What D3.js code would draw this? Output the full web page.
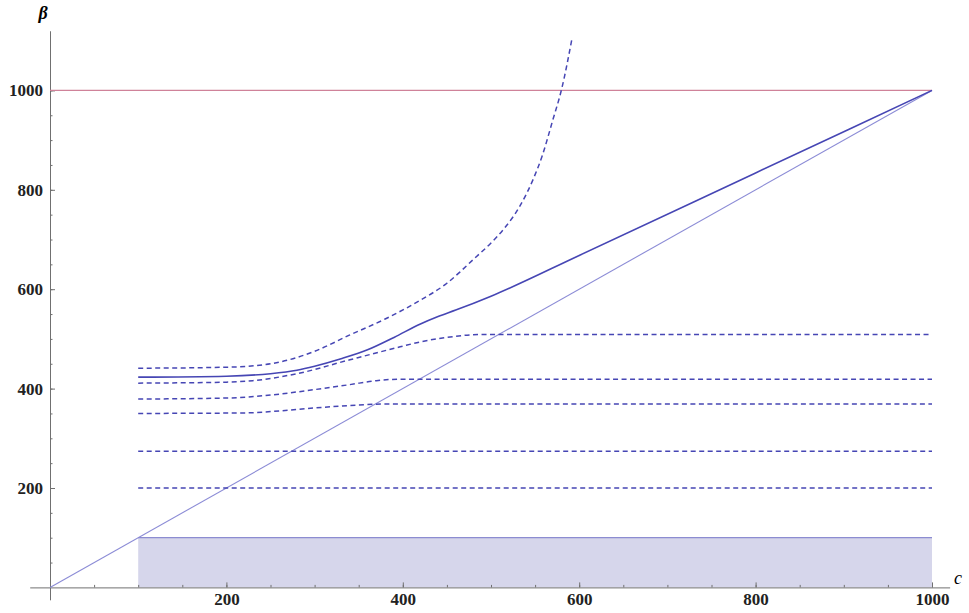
<!DOCTYPE html>
<html>
<head>
<meta charset="utf-8">
<script src="https://cdn.jsdelivr.net/npm/d3@7"></script>
<style>
  body { margin: 0; background: #fff; }
</style>
</head>
<body>
<svg width="969" height="613"></svg>
<script>
// values
var majorTicks = [200, 400, 600, 800, 1000];
var minorTicks = d3.range(50, 1001, 50);

var solidC = [100, 200, 250, 280, 300, 330, 360, 390, 420, 440, 460, 500, 600, 800, 1000];
var solidB = [423, 425, 430, 437, 445, 460, 478, 503, 530, 545, 558, 586, 668, 834, 1000];

var dash1C = [100, 200, 250, 300, 340, 380, 420, 450, 465, 480, 500, 514, 533, 548, 558, 570, 580, 592];
var dash1B = [441, 443, 450, 475, 508, 540, 578, 612, 635, 660, 693, 720, 768, 822, 868, 940, 1002, 1106];

var dash2C = [100, 200, 230, 280, 340, 397, 420, 450, 490, 1000];
var dash2B = [411, 413, 416, 430, 458, 484, 494, 503, 509, 509];

var dash3C = [100, 200, 250, 300, 340, 370, 400, 1000];
var dash3B = [379, 381, 387, 398, 408, 416, 419, 419];

var dash4C = [100, 220, 260, 300, 340, 380, 1000];
var dash4B = [350, 351, 355, 361, 366, 369, 369];

var dash5C = [100, 1000];
var dash5B = [274, 274];

var dash6C = [100, 1000];
var dash6B = [200, 200];

var diagC = [0, 1000];
var diagB = [0, 1000];

var capB = 1000;           // horizontal red line
var boxC = [100, 1000];    // shaded region
var boxB = 100;

var svg = d3.select("svg");
var serif = "'Liberation Serif', 'Times New Roman', serif";

var x = d3.scaleLinear().domain([0, 1000]).range([50, 932]);
var y = d3.scaleLinear().domain([0, 1000]).range([587.4, 90.4]);

function pts(cs, bs) {
  return cs.map(function (c, i) { return [c, bs[i]]; });
}

var line = d3.line()
  .x(function (d) { return x(d[0]); })
  .y(function (d) { return y(d[1]); })
  .curve(d3.curveMonotoneX);

var ink = "#4646b4";

// shaded box
svg.append("rect")
  .attr("x", x(boxC[0]))
  .attr("y", y(boxB))
  .attr("width", x(boxC[1]) - x(boxC[0]))
  .attr("height", y(0) - y(boxB))
  .attr("fill", "#d6d6eb");
svg.append("line")
  .attr("x1", x(boxC[0])).attr("x2", x(boxC[1]))
  .attr("y1", y(boxB)).attr("y2", y(boxB))
  .attr("stroke", "#7474c8").attr("stroke-width", 1);

// axes (drawn a bit longer than the data range)
var xa = d3.scaleLinear().domain([-23, 1020]).range([x(-23), x(1020)]);
var ya = d3.scaleLinear().domain([-25, 1120]).range([y(-25), y(1120)]);

function styleAxis(g) {
  g.attr("font-family", serif);
  g.selectAll("path,line").attr("stroke", "#707070");
  g.selectAll("text")
    .style("font-family", serif)
    .style("font-size", "17px")
    .style("font-weight", "bold")
    .attr("fill", "#222");
}

svg.append("g")
  .attr("transform", "translate(0," + y(0) + ")")
  .call(d3.axisBottom(xa).tickValues(minorTicks).tickSize(-2.5).tickSizeOuter(0).tickFormat(""))
  .call(styleAxis);
svg.append("g")
  .attr("transform", "translate(0," + y(0) + ")")
  .call(d3.axisBottom(xa).tickValues(majorTicks).tickSize(-5).tickSizeOuter(0).tickPadding(6).tickFormat(d3.format("d")))
  .call(styleAxis)
  .select(".domain").remove();

svg.append("g")
  .attr("transform", "translate(" + x(0) + ",0)")
  .call(d3.axisLeft(ya).tickValues(minorTicks).tickSize(-2.5).tickSizeOuter(0).tickFormat(""))
  .call(styleAxis);
svg.append("g")
  .attr("transform", "translate(" + x(0) + ",0)")
  .call(d3.axisLeft(ya).tickValues(majorTicks).tickSize(-5).tickSizeOuter(0).tickPadding(7).tickFormat(d3.format("d")))
  .call(styleAxis)
  .select(".domain").remove();

// red horizontal line
svg.append("line")
  .attr("x1", x(0)).attr("x2", x(1000))
  .attr("y1", y(capB)).attr("y2", y(capB))
  .attr("stroke", "#cf8299").attr("stroke-width", 1.3);

// diagonal
svg.append("path")
  .datum(pts(diagC, diagB))
  .attr("d", line)
  .attr("fill", "none")
  .attr("stroke", "#8c8cd6")
  .attr("stroke-width", 1.1);

// dashed curves
var dashed = [
  pts(dash1C, dash1B), pts(dash2C, dash2B), pts(dash3C, dash3B),
  pts(dash4C, dash4B), pts(dash5C, dash5B), pts(dash6C, dash6B)
];
svg.selectAll(".dash")
  .data(dashed)
  .enter().append("path")
  .attr("class", "dash")
  .attr("d", line)
  .attr("fill", "none")
  .attr("stroke", ink)
  .attr("stroke-width", 1.5)
  .attr("stroke-dasharray", "5,3.5");

// solid curve
svg.append("path")
  .datum(pts(solidC, solidB))
  .attr("d", line)
  .attr("fill", "none")
  .attr("stroke", ink)
  .attr("stroke-width", 1.6);

// axis names
svg.append("text")
  .attr("x", 43).attr("y", 19)
  .attr("text-anchor", "middle")
  .style("font-family", serif)
  .style("font-size", "18px")
  .style("font-style", "italic")
  .style("font-weight", "bold")
  .text("β");
svg.append("text")
  .attr("x", 958).attr("y", 584)
  .attr("text-anchor", "middle")
  .style("font-family", serif)
  .style("font-size", "18px")
  .style("font-style", "italic")
  .text("c");
</script>
</body>
</html>
